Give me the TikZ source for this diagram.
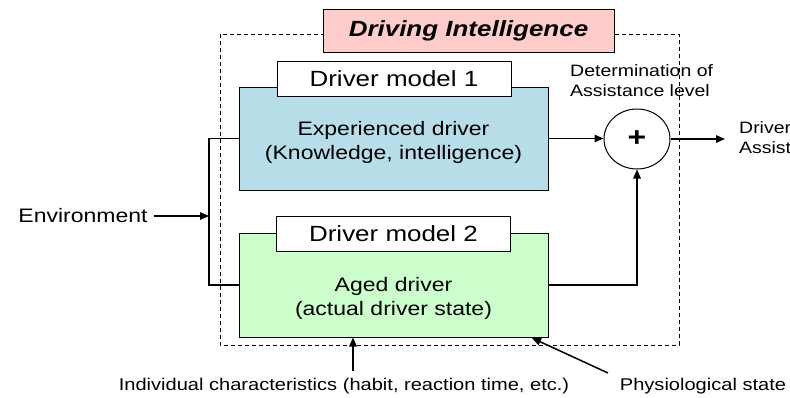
\documentclass[tikz,border=0pt]{standalone}
\usepackage{fontspec}
\setmainfont{Liberation Sans}[FakeStretch=1.18]
\usetikzlibrary{arrows.meta,shapes.geometric}
\definecolor{bluefill}{RGB}{183,221,232}
\definecolor{greenfill}{RGB}{204,255,204}
\definecolor{pinkfill}{RGB}{255,204,204}
\begin{document}
\begin{tikzpicture}[x=1pt,y=-1pt,
  box/.style={draw=black, line width=1pt, inner sep=0pt},
  lbl/.style={box, fill=white, minimum width=234pt, minimum height=35pt,
    font=\fontsize{22}{26}\selectfont},
  body/.style={align=center, inner sep=0pt, font=\fontsize{19.5}{24}\selectfont},
  wire/.style={line width=1.5pt},
  arr/.style={wire, -{Triangle[length=9pt,width=7.5pt]}},
  note/.style={inner sep=0pt, align=left, font=\fontsize{16.5}{20}\selectfont},
  foot/.style={inner sep=0pt, font=\fontsize{17}{20}\selectfont}
]
\useasboundingbox (0,0) rectangle (790,397);
\fill[white] (0,0) rectangle (790,397);

% dashed frame of the driving intelligence block
\draw[line width=0.9pt, dash pattern=on 4pt off 3pt] (220,34) rectangle (679,345);
\node[box, fill=pinkfill, minimum width=291pt, minimum height=43pt,
  font=\fontsize{22}{26}\selectfont\bfseries\itshape] (title) at (468.5,30.5) {Driving Intelligence};

% driver model 1
\node[box, fill=bluefill, minimum width=309pt, minimum height=103pt] (m1) at (393.5,138.5) {};
\node[lbl] (l1) at (394,78.5) {Driver model 1};
\node[body] (t1) at (393.5,142) {Experienced driver\\(Knowledge, intelligence)};

% driver model 2
\node[box, fill=greenfill, minimum width=309pt, minimum height=104pt] (m2) at (393.5,285) {};
\node[lbl] (l2) at (393.5,233.5) {Driver model 2};
\node[body] (t2) at (393.5,298) {Aged driver\\(actual driver state)};

% summing junction
\node[draw, ellipse, line width=1pt, minimum width=66pt, minimum height=60pt, inner sep=0pt,
  font=\fontsize{27}{30}\selectfont\bfseries] (sum) at (637,139) {+};
\node[note, anchor=west] (det) at (570,81) {Determination of\\Assistance level};
\node[note, anchor=west] (out) at (739,138) {Driver\\Assist};

% inputs
\node[inner sep=0pt, font=\fontsize{19.5}{24}\selectfont] (env) at (83,216) {Environment};
\node[foot] (ind) at (344,386) {Individual characteristics (habit, reaction time, etc.)};
\node[foot] (phy) at (703,386) {Physiological state};

\coordinate (fb) at (209,0);
\coordinate (outtip) at (725,139);
\coordinate (indfoot) at (353,371);
\coordinate (phyfoot) at (608,373);
\coordinate (phytip) at (532,338);

% connectors
\draw[wire] (m1.west) -- (m1.west -| fb) |- (m2.west);
\draw[arr] ([xshift=6pt]env.east) -- (env.east -| fb);
\draw[arr] (m1.east) -- (m1.east -| sum.west);
\draw[arr] (m2.east) -| (sum.south);
\draw[arr] (sum.east) -- (outtip);
\draw[arr] (indfoot) -- (indfoot |- m2.south);
\draw[arr] (phyfoot) -- (phytip);
\end{tikzpicture}
\end{document}
